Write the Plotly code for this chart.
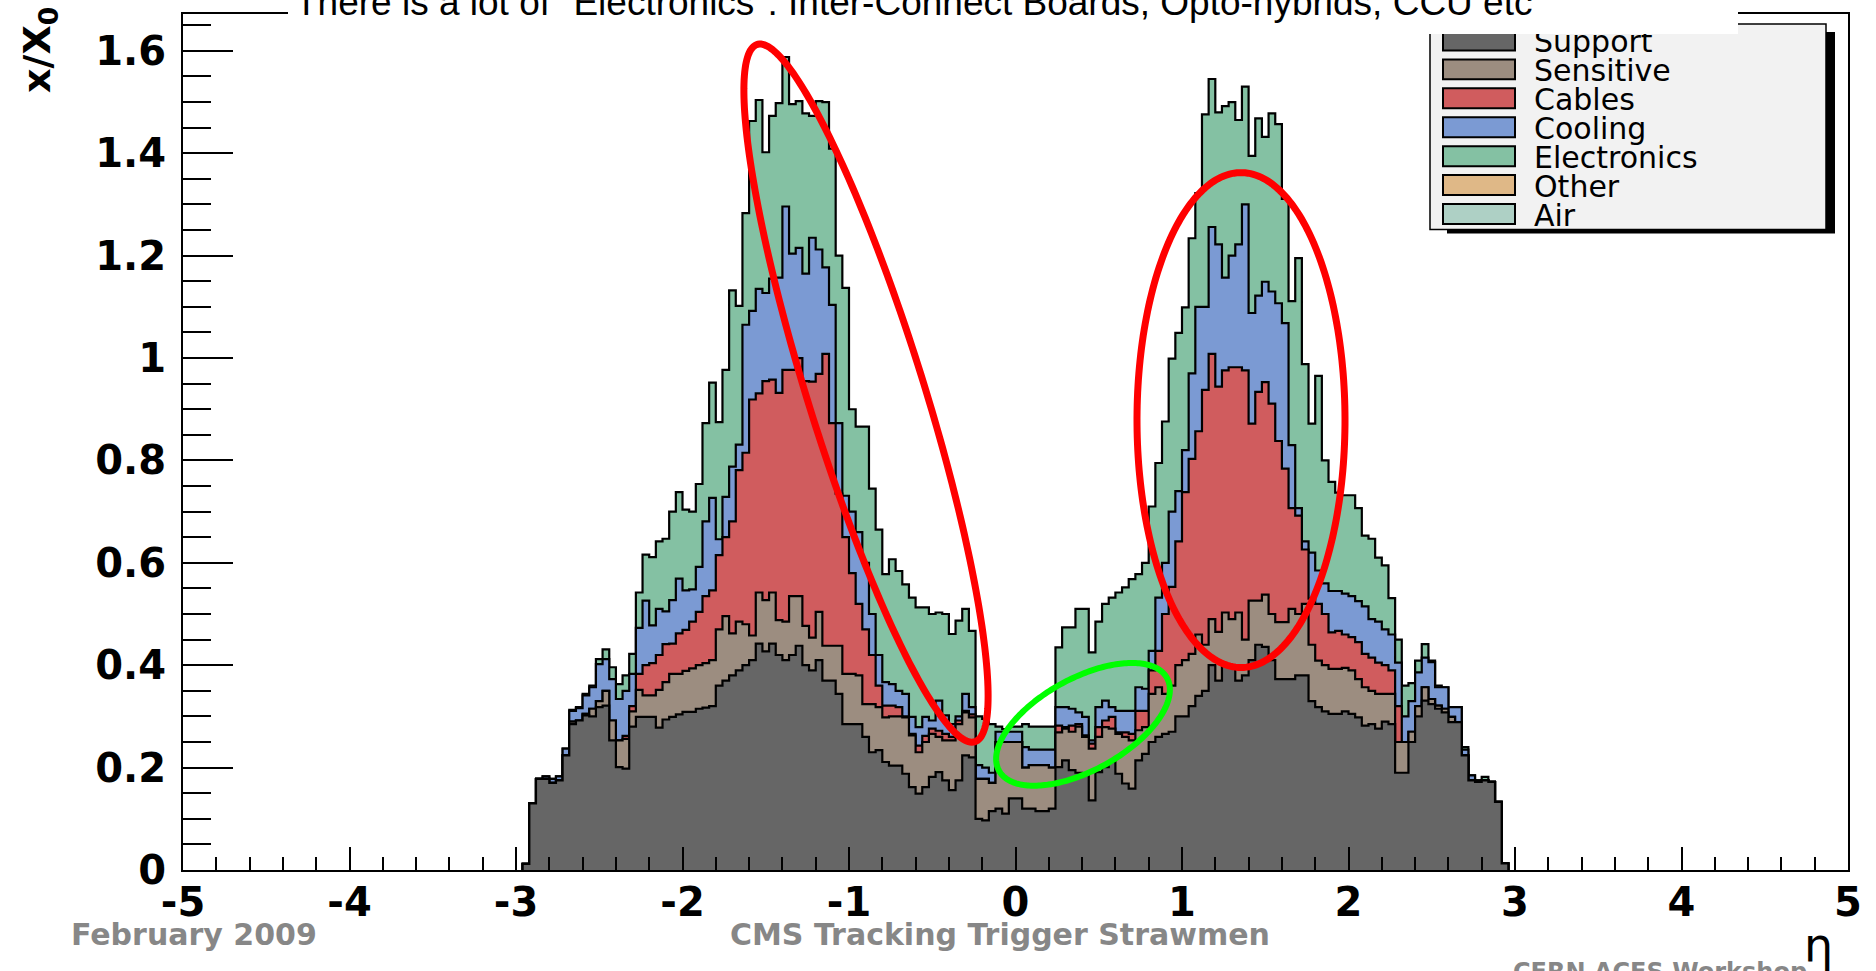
import numpy as np
import plotly.graph_objects as go

# ---------------------------------------------------------------------------
# Material budget (x/X0) versus pseudorapidity, stacked by category
# ---------------------------------------------------------------------------
categories = ["Support", "Sensitive", "Cables", "Cooling", "Electronics", "Other", "Air"]
category_colors = ["#666666", "#9c8d80", "#d05c5e", "#7b9ad3", "#84c1a3", "#dfb887", "#aed0c5"]

eta_first_edge = -2.96
eta_bin_width = 0.04

support = [
    0.012, 0.130, 0.178, 0.178, 0.170, 0.175, 0.224, 0.285, 0.292, 0.302,
    0.300, 0.318, 0.321, 0.253, 0.201, 0.198, 0.280, 0.299, 0.299, 0.299,
    0.278, 0.294, 0.299, 0.304, 0.309, 0.309, 0.315, 0.317, 0.320, 0.360,
    0.370, 0.380, 0.390, 0.400, 0.410, 0.442, 0.427, 0.442, 0.420, 0.410,
    0.420, 0.438, 0.400, 0.390, 0.410, 0.370, 0.370, 0.344, 0.285, 0.285,
    0.285, 0.260, 0.230, 0.234, 0.211, 0.204, 0.204, 0.188, 0.162, 0.149,
    0.162, 0.182, 0.191, 0.175, 0.156, 0.175, 0.224, 0.220, 0.100, 0.097,
    0.115, 0.120, 0.110, 0.140, 0.140, 0.120, 0.120, 0.115, 0.115, 0.120,
    0.201, 0.214, 0.195, 0.190, 0.188, 0.136, 0.191, 0.201, 0.211, 0.188,
    0.169, 0.159, 0.214, 0.227, 0.250, 0.260, 0.266, 0.270, 0.300, 0.300,
    0.320, 0.340, 0.350, 0.400, 0.370, 0.400, 0.400, 0.370, 0.380, 0.410,
    0.440, 0.436, 0.410, 0.373, 0.373, 0.373, 0.380, 0.380, 0.330, 0.318,
    0.310, 0.305, 0.305, 0.310, 0.305, 0.298, 0.282, 0.285, 0.276, 0.290,
    0.285, 0.190, 0.190, 0.250, 0.300, 0.331, 0.324, 0.315, 0.308, 0.289,
    0.289, 0.224, 0.175, 0.172, 0.175, 0.172, 0.133, 0.013,
]

sensitive = [
    0.000, 0.000, 0.000, 0.000, 0.000, 0.000, 0.000, 0.005, 0.000, 0.003,
    0.015, 0.012, 0.029, 0.039, 0.052, 0.058, 0.030, 0.053, 0.042, 0.042,
    0.074, 0.073, 0.084, 0.079, 0.080, 0.085, 0.085, 0.087, 0.090, 0.110,
    0.126, 0.082, 0.095, 0.080, 0.048, 0.100, 0.100, 0.100, 0.068, 0.075,
    0.115, 0.097, 0.077, 0.064, 0.094, 0.068, 0.068, 0.094, 0.098, 0.098,
    0.095, 0.064, 0.094, 0.084, 0.087, 0.096, 0.096, 0.110, 0.101, 0.081,
    0.088, 0.084, 0.069, 0.078, 0.097, 0.110, 0.084, 0.078, 0.078, 0.081,
    0.055, 0.130, 0.140, 0.110, 0.110, 0.080, 0.085, 0.090, 0.090, 0.080,
    0.068, 0.062, 0.075, 0.090, 0.072, 0.101, 0.069, 0.078, 0.065, 0.078,
    0.091, 0.094, 0.059, 0.052, 0.094, 0.097, 0.078, 0.090, 0.100, 0.110,
    0.102, 0.120, 0.090, 0.090, 0.095, 0.103, 0.090, 0.133, 0.070, 0.116,
    0.086, 0.102, 0.090, 0.111, 0.111, 0.137, 0.120, 0.140, 0.110, 0.091,
    0.090, 0.088, 0.088, 0.085, 0.085, 0.075, 0.075, 0.065, 0.068, 0.054,
    0.059, 0.060, 0.060, 0.020, 0.020, 0.026, 0.010, 0.006, 0.007, 0.010,
    0.000, 0.000, 0.000, 0.000, 0.000, 0.000, 0.000, 0.000,
]

cables = [
    0.000, 0.000, 0.000, 0.000, 0.000, 0.000, 0.000, 0.000, 0.000, 0.000,
    0.000, 0.000, 0.000, 0.000, 0.000, 0.006, 0.010, 0.031, 0.059, 0.063,
    0.068, 0.074, 0.059, 0.079, 0.080, 0.091, 0.104, 0.131, 0.136, 0.145,
    0.154, 0.219, 0.296, 0.335, 0.461, 0.389, 0.428, 0.416, 0.444, 0.492,
    0.442, 0.465, 0.478, 0.500, 0.465, 0.570, 0.435, 0.297, 0.267, 0.197,
    0.140, 0.146, 0.096, 0.042, 0.023, 0.021, 0.018, 0.002, 0.003, 0.013,
    0.012, 0.010, 0.012, 0.013, 0.007, 0.007, 0.003, 0.006, 0.000, 0.000,
    0.000, 0.000, 0.000, 0.000, 0.000, 0.000, 0.000, 0.000, 0.000, 0.000,
    0.013, 0.003, 0.012, 0.005, 0.003, 0.010, 0.019, 0.013, 0.023, 0.003,
    0.009, 0.013, 0.038, 0.032, 0.046, 0.071, 0.156, 0.193, 0.242, 0.328,
    0.381, 0.397, 0.498, 0.518, 0.479, 0.473, 0.492, 0.479, 0.526, 0.346,
    0.408, 0.415, 0.411, 0.354, 0.300, 0.197, 0.192, 0.106, 0.090, 0.111,
    0.100, 0.071, 0.074, 0.065, 0.065, 0.072, 0.065, 0.065, 0.061, 0.056,
    0.046, 0.070, 0.000, 0.000, 0.000, 0.000, 0.000, 0.000, 0.000, 0.000,
    0.000, 0.000, 0.000, 0.000, 0.000, 0.000, 0.000, 0.000,
]

cooling = [
    0.000, 0.000, 0.000, 0.005, 0.008, 0.008, 0.013, 0.021, 0.024, 0.036,
    0.042, 0.072, 0.062, 0.081, 0.081, 0.088, 0.063, 0.090, 0.126, 0.074,
    0.090, 0.064, 0.085, 0.107, 0.077, 0.063, 0.088, 0.146, 0.181, 0.031,
    0.079, 0.107, 0.050, 0.250, 0.173, 0.204, 0.172, 0.197, 0.225, 0.319,
    0.227, 0.215, 0.210, 0.281, 0.243, 0.169, 0.231, 0.138, 0.081, 0.120,
    0.140, 0.130, 0.080, 0.060, 0.046, 0.042, 0.032, 0.044, 0.033, 0.036,
    0.037, 0.016, 0.059, 0.036, 0.025, 0.008, 0.033, 0.014, 0.027, 0.022,
    0.020, 0.020, 0.020, 0.020, 0.020, 0.040, 0.030, 0.030, 0.030, 0.035,
    0.036, 0.039, 0.033, 0.023, 0.036, 0.006, 0.039, 0.039, 0.019, 0.042,
    0.042, 0.045, 0.046, 0.043, 0.038, 0.104, 0.100, 0.147, 0.098, 0.082,
    0.167, 0.243, 0.162, 0.248, 0.278, 0.181, 0.218, 0.240, 0.324, 0.216,
    0.188, 0.196, 0.219, 0.269, 0.284, 0.123, 0.015, 0.016, 0.090, 0.065,
    0.060, 0.081, 0.078, 0.080, 0.080, 0.080, 0.093, 0.075, 0.080, 0.070,
    0.070, 0.085, 0.050, 0.060, 0.066, 0.058, 0.072, 0.036, 0.042, 0.019,
    0.029, 0.011, 0.010, 0.003, 0.000, 0.000, 0.000, 0.000,
]

electronics = [
    0.000, 0.000, 0.000, 0.000, 0.000, 0.000, 0.000, 0.002, 0.002, 0.003,
    0.003, 0.010, 0.019, 0.023, 0.029, 0.030, 0.039, 0.069, 0.090, 0.133,
    0.132, 0.142, 0.173, 0.169, 0.158, 0.152, 0.162, 0.192, 0.225, 0.229,
    0.248, 0.344, 0.271, 0.218, 0.371, 0.369, 0.275, 0.318, 0.341, 0.292,
    0.292, 0.287, 0.313, 0.238, 0.290, 0.323, 0.305, 0.327, 0.406, 0.200,
    0.206, 0.266, 0.245, 0.245, 0.211, 0.244, 0.234, 0.214, 0.233, 0.234,
    0.214, 0.208, 0.172, 0.198, 0.176, 0.187, 0.166, 0.149, 0.095, 0.095,
    0.095, 0.010, 0.005, 0.010, 0.010, 0.045, 0.045, 0.045, 0.045, 0.045,
    0.117, 0.156, 0.159, 0.202, 0.211, 0.172, 0.167, 0.189, 0.214, 0.231,
    0.241, 0.257, 0.221, 0.246, 0.282, 0.263, 0.276, 0.299, 0.309, 0.279,
    0.264, 0.222, 0.376, 0.289, 0.258, 0.335, 0.300, 0.243, 0.230, 0.307,
    0.346, 0.283, 0.348, 0.350, 0.243, 0.281, 0.488, 0.346, 0.252, 0.380,
    0.240, 0.213, 0.192, 0.192, 0.197, 0.182, 0.138, 0.157, 0.125, 0.125,
    0.071, 0.045, 0.060, 0.035, 0.023, 0.026, 0.003, 0.003, 0.000, 0.000,
    0.000, 0.005, 0.000, 0.000, 0.007, 0.000, 0.000, 0.000,
]

x_tick_values = [-5, -4, -3, -2, -1, 0, 1, 2, 3, 4, 5]
x_tick_labels = ["-5", "-4", "-3", "-2", "-1", "0", "1", "2", "3", "4", "5"]
y_tick_values = [0, 0.2, 0.4, 0.6, 0.8, 1.0, 1.2, 1.4, 1.6]
y_tick_labels = ["0", "0.2", "0.4", "0.6", "0.8", "1", "1.2", "1.4", "1.6"]

headline = 'There is a lot of "Electronics": Inter-Connect Boards, Opto-hybrids, CCU etc'
footer_left = "February 2009"
footer_mid = "CMS Tracking Trigger Strawmen"
footer_right = "CERN ACES Workshop"

# ---------------------------------------------------------------------------
# Canvas geometry (pixels) and helpers to place decorations in paper units
# ---------------------------------------------------------------------------
W, H = 1876, 971
L, R, T, B = 183, 1848, 12, 870


def px(xp):
    return (xp - L) / (R - L)


def py(yp):
    return (B - yp) / (B - T)


def ellipse_path(cx, cy, a, b, phi_deg, n=240):
    t = np.linspace(0, 2 * np.pi, n)
    phi = np.radians(phi_deg)
    ux, uy = np.cos(phi), np.sin(phi)
    vx, vy = -np.sin(phi), np.cos(phi)
    xs = cx + a * np.cos(t) * ux + b * np.sin(t) * vx
    ys = cy + a * np.cos(t) * uy + b * np.sin(t) * vy
    pts = [f"{px(x):.5f},{py(y):.5f}" for x, y in zip(xs, ys)]
    return "M " + " L ".join(pts) + " Z"


# ---------------------------------------------------------------------------
# Stacked step histogram: each cumulative level drawn as a filled step line
# ---------------------------------------------------------------------------
layers = [support, sensitive, cables, cooling, electronics]
n_bins = len(support)
edges = eta_first_edge + eta_bin_width * np.arange(n_bins + 1)
cumulative = np.cumsum(np.array(layers, dtype=float), axis=0)

fig = go.Figure()
for k in reversed(range(len(layers))):
    level = cumulative[k]
    xs = np.concatenate([[edges[0]], edges[:-1], [edges[-1]], [edges[-1]]])
    ys = np.concatenate([[0.0], level, [level[-1]], [0.0]])
    fig.add_trace(go.Scatter(
        x=xs, y=ys, mode="lines",
        line=dict(shape="hv", color="black", width=2.2),
        fill="tozeroy", fillcolor=category_colors[k],
        name=categories[k], showlegend=False, hoverinfo="skip",
    ))

tick_font = dict(family="DejaVu Sans, Arial, sans-serif", size=40, color="black", weight="bold")

fig.update_xaxes(
    range=[-5, 5], tickmode="array", tickvals=x_tick_values, ticktext=x_tick_labels,
    ticks="inside", ticklen=23, tickwidth=1.6, tickcolor="black",
    minor=dict(dtick=0.2, tick0=0, ticks="inside", ticklen=13, tickwidth=1.6,
               tickcolor="black", showgrid=False),
    showline=True, linecolor="black", linewidth=2, mirror=True,
    showgrid=False, zeroline=False, tickfont=tick_font, ticklabelstandoff=-4,
)
fig.update_yaxes(
    range=[0, 1.672], tickmode="array", tickvals=y_tick_values, ticktext=y_tick_labels,
    ticks="inside", ticklen=50, tickwidth=1.6, tickcolor="black",
    minor=dict(dtick=0.05, tick0=0, ticks="inside", ticklen=28, tickwidth=1.6,
               tickcolor="black", showgrid=False),
    showline=True, linecolor="black", linewidth=2, mirror=True,
    showgrid=False, zeroline=False, tickfont=tick_font, ticklabelstandoff=7,
)

shapes = []
annotations = []

# highlight ellipses
shapes.append(dict(type="path", xref="paper", yref="paper",
                   path=ellipse_path(866, 392, 366, 58, 72.7),
                   line=dict(color="#ff0000", width=7), layer="above"))
shapes.append(dict(type="path", xref="paper", yref="paper",
                   path=ellipse_path(1241, 419, 248, 104, 90),
                   line=dict(color="#ff0000", width=7), layer="above"))
shapes.append(dict(type="path", xref="paper", yref="paper",
                   path=ellipse_path(1083, 724, 96, 46, -29),
                   line=dict(color="#00ff00", width=6), layer="above"))

# legend box with drop shadow
shapes.append(dict(type="rect", xref="paper", yref="paper",
                   x0=px(1447), x1=px(1835), y0=py(232), y1=py(30),
                   fillcolor="black", line=dict(width=0), layer="above"))
shapes.append(dict(type="rect", xref="paper", yref="paper",
                   x0=px(1430), x1=px(1826), y0=py(228), y1=py(22),
                   fillcolor="#f2f2f2", line=dict(color="black", width=1.5), layer="above"))
for k, name in enumerate(categories):
    yc = 38.5 + 29.0 * k
    shapes.append(dict(type="rect", xref="paper", yref="paper",
                       x0=px(1443), x1=px(1515), y0=py(yc + 10), y1=py(yc - 10),
                       fillcolor=category_colors[k], line=dict(color="black", width=2),
                       layer="above"))
    annotations.append(dict(x=px(1532), y=py(yc + 1), xref="paper", yref="paper",
                            text=name, showarrow=False, xanchor="left", yanchor="middle",
                            font=dict(family="DejaVu Sans, Arial, sans-serif", size=30,
                                      color="black")))

# white banner behind the headline (covers the frame top and legend top)
annotations.append(dict(x=px(288), y=py(32), xref="paper", yref="paper", text=" ",
                        showarrow=False, xanchor="left", yanchor="bottom",
                        width=1450, height=70, bgcolor="white", borderpad=0,
                        borderwidth=0))
annotations.append(dict(x=px(293), y=py(0), xref="paper", yref="paper", text=headline,
                        showarrow=False, xanchor="left", yanchor="middle",
                        font=dict(family="Liberation Sans, Arial, sans-serif", size=37,
                                  color="black")))

# y-axis title
annotations.append(dict(x=px(40), y=py(48), xref="paper", yref="paper",
                        text="x/X<sub>0</sub>", showarrow=False, textangle=-90,
                        xanchor="center", yanchor="middle",
                        font=dict(family="DejaVu Sans, Arial, sans-serif", size=38,
                                  color="black", weight="bold")))
# x-axis title
annotations.append(dict(x=px(1818), y=py(945), xref="paper", yref="paper",
                        text="η", showarrow=False, xanchor="center", yanchor="middle",
                        font=dict(family="DejaVu Sans, Arial, sans-serif", size=46,
                                  color="black")))

footer_font = dict(family="DejaVu Sans, Arial, sans-serif", size=30, color="#878787",
                   weight="bold")
annotations.append(dict(x=px(69), y=py(935), xref="paper", yref="paper", text=footer_left,
                        showarrow=False, xanchor="left", yanchor="middle", font=footer_font))
annotations.append(dict(x=px(1000), y=py(935), xref="paper", yref="paper", text=footer_mid,
                        showarrow=False, xanchor="center", yanchor="middle", font=footer_font))
annotations.append(dict(x=px(1511), y=py(972), xref="paper", yref="paper", text=footer_right,
                        showarrow=False, xanchor="left", yanchor="middle",
                        font=dict(family="DejaVu Sans, Arial, sans-serif", size=24,
                                  color="#878787", weight="bold")))

fig.update_layout(
    width=W, height=H, autosize=False,
    margin=dict(l=L, r=W - R, t=T, b=H - B, pad=0),
    paper_bgcolor="white", plot_bgcolor="white",
    showlegend=False, shapes=shapes, annotations=annotations,
)

fig.write_html("out.html")
